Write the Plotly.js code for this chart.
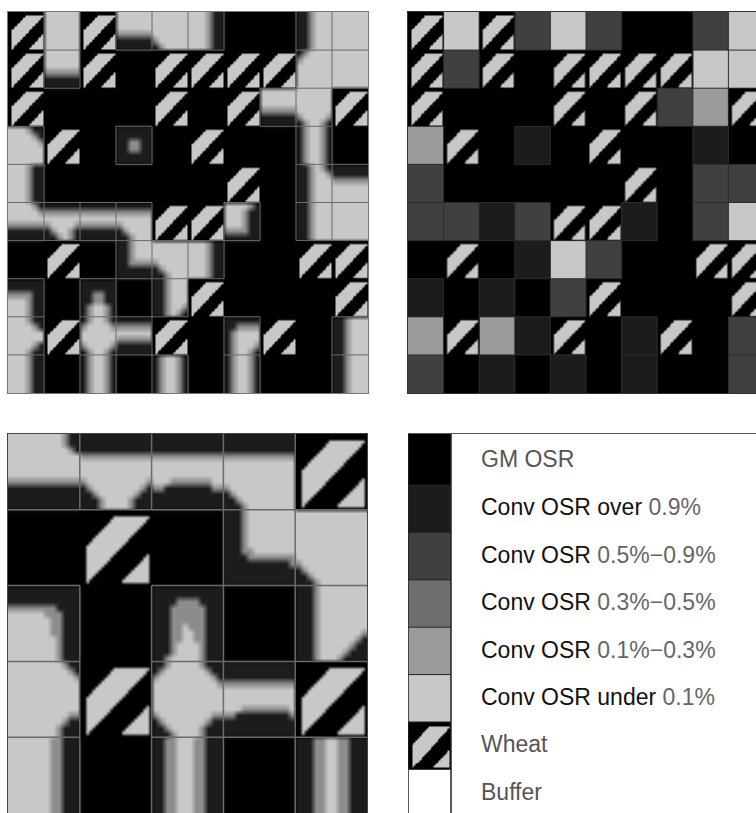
<!DOCTYPE html>
<html><head><meta charset="utf-8">
<script src="https://cdn.plot.ly/plotly-3.0.1.min.js"></script>
<style>html,body{margin:0;padding:0;background:#fff}</style></head>
<body><div id="chart" style="width:756px;height:813px"></div>
<script>
// Field classes: K GM OSR, V over 0.9%, D 0.5-0.9%, G 0.3-0.5%, M 0.1-0.3%, L under 0.1%, W wheat, B buffer
const cellsTop = [
 "WLWDLDKKDL",
 "WDWKWWWWLL",
 "WKKKWKWDMW",
 "MWKVKWKKVK",
 "DKKKKKWKDD",
 "DDVDWWVKDL",
 "KWKVLDKKWW",
 "VKVKDWKKKW",
 "MWMVWKVWKD",
 "DKVKVKVKKD"
];
const cellsZoom = ["LLLLW","KWKLL","LKLKL","LWLLW","LKLKL"];
const legendCodes = ["K","V","D","G","M","L","W","B"];
const legendEdges = [-0.076,1,2,3,4,5,6,7,8];
const legendLabelY = [0.44,1.47,2.47,3.47,4.47,5.47,6.47,7.47];
const legendLabels = [
 '<span style="color:#555">GM OSR</span>',
 'Conv OSR over <span style="color:#666">0.9%</span>',
 'Conv OSR <span style="color:#666">0.5%−0.9%</span>',
 'Conv OSR <span style="color:#666">0.3%−0.5%</span>',
 'Conv OSR <span style="color:#666">0.1%−0.3%</span>',
 'Conv OSR under <span style="color:#666">0.1%</span>',
 '<span style="color:#555">Wheat</span>',
 '<span style="color:#555">Buffer</span>'
];
const classGrey = {K:0,V:28,D:64,G:110,M:155,L:200,W:0,B:255};
const mapGrey = {"#":0,"d":28,"m":140,".":200};
const wheatTile = [
 "########################",
 "########################",
 "###########............#",
 "##########............##",
 "#########............###",
 "########............####",
 "#######............#####",
 "######............######",
 "#####............#######",
 "####............########",
 "###............#########",
 "##............##########",
 "##...........###########",
 "##..........############",
 "##.........###########.#",
 "##........###########..#",
 "##.......###########...#",
 "##......###########....#",
 "##.....###########.....#",
 "##....###########......#",
 "##...###########.......#",
 "##..###########........#",
 "##.###########.........#",
 "########################"
];
// Pollen-dispersal map of the top-left panel, 6 samples per field (levels read by eye)
const dispersalTop = [
"###### ...... ###### ...... ...... ...mdd ###### ###### ddm... ......",
"###### ...... ###### ...... ...... ...mdd ###### ###### ddm... ......",
"###### ...... ###### ...... ...... ...mdd ###### ###### ddm... ......",
"###### ...... ###### mmmmmm ...... ...mdd ###### ###### ddm... ......",
"###### ...... ###### dddddd m..... ...mdd ###### ###### ddm... ......",
"###### ...... ###### dddddd dm.... ...mdd ###### ###### ddm... ......",

"###### ...... ###### ###### ###### ###### ###### ###### dm.... ......",
"###### ...... ###### ###### ###### ###### ###### ###### m..... ......",
"###### ...... ###### ###### ###### ###### ###### ###### ...... ......",
"###### mmmmmm ###### ###### ###### ###### ###### ###### ...... ......",
"###### dddddd ###### ###### ###### ###### ###### ###### ...... ......",
"###### dddddd ###### ###### ###### ###### ###### ###### ...... ......",

"###### ###### ###### ###### ###### ###### ###### ...... ...... ######",
"###### ###### ###### ###### ###### ###### ###### ...... ...... ######",
"###### ###### ###### ###### ###### ###### ###### ...... ...... ######",
"###### ###### ###### ###### ###### ###### ###### mmmmmm ...... ######",
"###### ###### ###### ###### ###### ###### ###### dddddd m....m ######",
"###### ###### ###### ###### ###### ###### ###### dddddd dm..md ######",

"...mdd ###### ###### dddddd ###### ###### ###### ###### dm..md ######",
"....md ###### ###### dddddd ###### ###### ###### ###### dm..md ######",
".....m ###### ###### ddmmdd ###### ###### ###### ###### dm..md ######",
"...... ###### ###### ddmmdd ###### ###### ###### ###### dm..md ######",
"...... ###### ###### dddddd ###### ###### ###### ###### dm..md ######",
"...... ###### ###### dddddd ###### ###### ###### ###### dm..md ######",

"...mdd ###### ###### ###### ###### ###### ###### ###### ddm.md dddddd",
"...mdd ###### ###### ###### ###### ###### ###### ###### ddm..m dddddd",
"...mdd ###### ###### ###### ###### ###### ###### ###### ddm... mmmmmm",
"...mdd ###### ###### ###### ###### ###### ###### ###### ddm... ......",
"...mdd ###### ###### ###### ###### ###### ###### ###### ddm... ......",
"...mdd ###### ###### ###### ###### ###### ###### ###### ddm... ......",

"....md dddddd dddddd dddddd ###### ###### ....md ###### ddm... ......",
".....m mmmmmm mmmmmm mmmmmm ###### ###### ...mdd ###### ddm... ......",
"...... ...... ...... ...... ###### ###### ...mdd ###### ddm... ......",
"mmmmmm m....m mmmmmm m..... ###### ###### ...mdd ###### ddm... ......",
"dddddd dm..md dddddd dm.... ###### ###### mmmmdd ###### ddm... ......",
"dddddd ddm.md dddddd ddm... ###### ###### dddddd ###### ddm... ......",

"###### ###### ###### ddm... ...... ...mdd ###### ###### ###### ######",
"###### ###### ###### ddm... ...... ...mdd ###### ###### ###### ######",
"###### ###### ###### ddm... ...... ...mdd ###### ###### ###### ######",
"###### ###### ###### ddmmmm m..... ...mdd ###### ###### ###### ######",
"###### ###### ###### dddddd dm.... ...mdd ###### ###### ###### ######",
"###### ###### ###### dddddd ddm... ...mdd ###### ###### ###### ######",

"dddddd ###### dddddd ###### ddm... ###### ###### ###### ###### ######",
"dddddd ###### dddddd ###### ddm... ###### ###### ###### ###### ######",
"mmmmdd ###### ddmmdd ###### ddm... ###### ###### ###### ###### ######",
"...mdd ###### ddmmdd ###### ddm... ###### ###### ###### ###### ######",
"...mdd ###### dm..md ###### ddm..m ###### ###### ###### ###### ######",
"...mdd ###### dm..md ###### ddm.md ###### ###### ###### ###### ######",

"...mdd ###### dm..md dddddd ###### ###### dddddd ###### ###### ddm...",
"....md ###### m....m mmmmmm ###### ###### ddmmmm ###### ###### ddm...",
"...... ###### ...... ...... ###### ###### dm.... ###### ###### ddm...",
"...... ###### ...... mmmmmm ###### ###### dm.... ###### ###### ddm...",
"....md ###### m....m dddddd ###### ###### dm...m ###### ###### ddm...",
"...mdd ###### dm..md dddddd ###### ###### dm..md ###### ###### ddm...",

"...mdd ###### dm..md ###### dm..md ###### dm..md ###### ###### ddm...",
"...mdd ###### dm..md ###### dm..md ###### dm..md ###### ###### ddm...",
"...mdd ###### dm..md ###### dm..md ###### dm..md ###### ###### ddm...",
"...mdd ###### dm..md ###### dm..md ###### dm..md ###### ###### ddm...",
"...mdd ###### dm..md ###### dm..md ###### dm..md ###### ###### ddm...",
"...mdd ###### dm..md ###### dm..md ###### dm..md ###### ###### ddm..."
];
// Enlarged lower-left corner of the same map, 12 samples per field
const dispersalZoom = [
".........mdd dddddddddddd dddddddddddd dddddddddddd ############",
".........mdd dddddddddddd dddddddddddd dddddddddddd ############",
"..........md dddddddddddd dddddddddddd dddddddddddd ############",
"............ mmmmmmmmmmmm mmmmmmmmmmmm mmmmmmmmmmmm ############",
"............ ............ ............ ............ ############",
"............ ............ ............ ............ ############",
"............ ............ ............ ............ ############",
"mmmmmmmmmmmm m..........m ...mmmmmmm.. ............ ############",
"dddddddddddd dm........md mmddddddddmm m........... ############",
"dddddddddddd ddm......mdd dddddddddddd dm.......... ############",
"dddddddddddd dddm....mddd dddddddddddd ddm......... ############",
"dddddddddddd dddm....mddd dddddddddddd dddm........ ############",

"############ ############ ############ dddm........ ............",
"############ ############ ############ dddm........ ............",
"############ ############ ############ dddm........ ............",
"############ ############ ############ dddm........ ............",
"############ ############ ############ dddm........ ............",
"############ ############ ############ dddm........ ............",
"############ ############ ############ dddmm....... ............",
"############ ############ ############ ddddmmmmmmmm ............",
"############ ############ ############ dddddddddddm m...........",
"############ ############ ############ dddddddddddd dm..........",
"############ ############ ############ dddddddddddd ddm.........",
"############ ############ ############ dddddddddddd dddm........",

"dddddddddddd ############ dddddddddddd ############ dddm........",
"dddddddddddd ############ dddddddddddd ############ dddm........",
"dddddddddddd ############ ddddmmmmdddd ############ dddm........",
"mmmmmmmmdddd ############ dddmmmmmmddd ############ dddm........",
"......mmmddd ############ dddmmmmmmddd ############ dddm........",
".......mmddd ############ dddmmmmmmddd ############ dddm........",
".......mmddd ############ dddmm.mmmddd ############ dddm........",
".......mmddd ############ dddmm..mmddd ############ dddm.......m",
"........mddd ############ dddmm..mmddd ############ dddm......md",
"........mddd ############ dddm....mddd ############ dddm.....mdd",
"........mddd ############ dddm....mddd ############ dddm....mddd",
"........mddd ############ ddm.....mddd ############ dddm...mdddd",

".........mdd ############ ddm.....mddd dddddddddddd ############",
"..........md ############ dm.......mdd dddddddddddd ############",
"...........m ############ m.........md dddddddddddd ############",
"............ ############ ...........m mmmmmmmmmmmm ############",
"............ ############ ............ ............ ############",
"............ ############ ............ ............ ############",
"............ ############ ............ ............ ############",
"............ ############ ............ ...mmmmmmmm. ############",
"..........mm ############ m.........mm mmdddddddddm ############",
".........mdd ############ dm.......mdd dddddddddddd ############",
"........mddd ############ ddm.....mddd dddddddddddd ############",
"........mddd ############ dddm....mddd dddddddddddd ############",

".......mmddd ############ ddmm...mmddd ############ dddmm..mmddd",
".......mmddd ############ ddmm...mmddd ############ dddmm..mmddd",
".......mmddd ############ ddmm...mmddd ############ dddmm..mmddd",
".......mmddd ############ ddmm...mmddd ############ dddmm..mmddd",
".......mmddd ############ ddmm...mmddd ############ dddmm..mmddd",
".......mmddd ############ ddmm...mmddd ############ dddmm..mmddd",
".......mmddd ############ ddmm...mmddd ############ dddmm..mmddd",
".......mmddd ############ ddmm...mmddd ############ dddmm..mmddd",
".......mmddd ############ ddmm...mmddd ############ dddmm..mmddd",
".......mmddd ############ ddmm...mmddd ############ dddmm..mmddd",
".......mmddd ############ ddmm...mmddd ############ dddmm..mmddd",
".......mmddd ############ ddmm...mmddd ############ dddmm..mmddd"
];

const W = 756, H = 813;
const dx = (a, b) => [a / W, b / W];
const dy = (top, bot) => [1 - bot / H, 1 - top / H];
const greyScale = [[0, '#000'], [1, '#fff']];
const toGrid = rows => rows.map(r => [...r.replace(/ /g, '')].map(c => mapGrey[c]));
const tileZ = toGrid(wheatTile);
const heat = (z, xa, ya, extra) => Object.assign({type: 'heatmap', z, xaxis: xa, yaxis: ya, zmin: 0, zmax: 255,
  colorscale: greyScale, showscale: false, hoverinfo: 'skip'}, extra);

function wheatTraces(cells, xa, ya) {
  const out = [];
  cells.forEach((row, r) => [...row].forEach((c, i) => {
    if (c === 'W') out.push(heat(tileZ, xa, ya, {x0: i + 1 / 48, dx: 1 / 24, y0: r + 1 / 48, dy: 1 / 24, zsmooth: 'best'}));
  }));
  return out;
}
function edgeTrace(cells, xa, ya, color, width) {
  const xs = [], ys = [];
  const conv = c => c !== 'K' && c !== 'W';
  cells.forEach((row, r) => [...row].forEach((c, i) => {
    const right = row[i + 1], below = cells[r + 1] && cells[r + 1][i];
    if (right && (conv(c) || conv(right))) { xs.push(i + 1, i + 1, null); ys.push(r, r + 1, null); }
    if (below && (conv(c) || conv(below))) { xs.push(i, i + 1, null); ys.push(r + 1, r + 1, null); }
  }));
  return {type: 'scatter', mode: 'lines', x: xs, y: ys, xaxis: xa, yaxis: ya, connectgaps: false,
    line: {color, width}, hoverinfo: 'skip', showlegend: false};
}
// frame of the legend's swatch column: one line each side of it, over the full legend height
const swatchFrame = {type: 'scatter', mode: 'lines', xaxis: 'x4', yaxis: 'y4', hoverinfo: 'skip', showlegend: false,
  x: [0, 0, null, 1, 1], y: [legendEdges[0], 8, null, legendEdges[0], 8], line: {color: '#222', width: 1.5}};
const gridTop = toGrid(dispersalTop), gridZoom = toGrid(dispersalZoom);
const sub6 = 1 / 6, sub12 = 1 / 12;
const data = [
  heat(gridTop, 'x', 'y', {x0: sub6 / 2, dx: sub6, y0: sub6 / 2, dy: sub6, zsmooth: 'best'}),
  ...wheatTraces(cellsTop, 'x', 'y'),
  edgeTrace(cellsTop, 'x', 'y', '#6a6a6a', 1),

  heat(cellsTop.map(r => [...r].map(c => classGrey[c])), 'x2', 'y2', {x0: 0.5, dx: 1, y0: 0.5, dy: 1}),
  ...wheatTraces(cellsTop, 'x2', 'y2'),
  edgeTrace(cellsTop, 'x2', 'y2', '#2c2c2c', 1),

  heat(gridZoom, 'x3', 'y3', {x0: sub12 / 2, dx: sub12, y0: sub12 / 2, dy: sub12, zsmooth: 'best'}),
  ...wheatTraces(cellsZoom, 'x3', 'y3'),
  edgeTrace(cellsZoom, 'x3', 'y3', '#6a6a6a', 1.5),

  heat(legendCodes.map(c => [classGrey[c]]), 'x4', 'y4', {x: [0, 1], y: legendEdges}),
  ...wheatTraces(legendCodes, 'x4', 'y4'),
  edgeTrace(legendCodes.map(c => c === 'K' ? 'L' : c), 'x4', 'y4', '#222', 1),
  swatchFrame
];
const blank = {showgrid: false, zeroline: false, showticklabels: false, ticks: '', fixedrange: true};
const framed = c => Object.assign({}, blank, {showline: true, mirror: true, linecolor: c, linewidth: 1});
const layout = {
  width: W, height: H, autosize: false, showlegend: false,
  margin: {l: 0, r: 0, t: 0, b: 0}, paper_bgcolor: '#fff', plot_bgcolor: '#fff',
  xaxis:  Object.assign(framed('#777'), {domain: dx(8, 368), range: [0, 10]}),
  yaxis:  Object.assign(framed('#777'), {domain: dy(12, 393), range: [10, 0]}),
  xaxis2: Object.assign(framed('#333'), {domain: dx(408, 756), range: [0, 348 / 35.6], anchor: 'y2'}),
  yaxis2: Object.assign(framed('#333'), {domain: dy(12, 393), range: [10, 0], anchor: 'x2'}),
  xaxis3: Object.assign(framed('#444'), {domain: dx(8, 367), range: [0, 5], anchor: 'y3'}),
  yaxis3: Object.assign(framed('#444'), {domain: dy(434, 813), range: [5, 0], anchor: 'x3'}),
  xaxis4: Object.assign({}, blank, {domain: dx(408, 756), range: [0, 348 / 43], anchor: 'y4',
    showline: true, side: 'top', linecolor: '#555', linewidth: 1}),
  yaxis4: Object.assign({}, blank, {domain: dy(434, 813), range: [7.92, legendEdges[0]], anchor: 'free',
    position: 480 / W, side: 'right', showticklabels: true, tickmode: 'array',
    tickvals: legendLabelY, ticktext: legendLabels,
    tickfont: {family: 'Liberation Sans, Arial, sans-serif', size: 23, color: '#111'}})
};
Plotly.newPlot('chart', data, layout, {displayModeBar: false, staticPlot: true});
</script>
</body></html>
